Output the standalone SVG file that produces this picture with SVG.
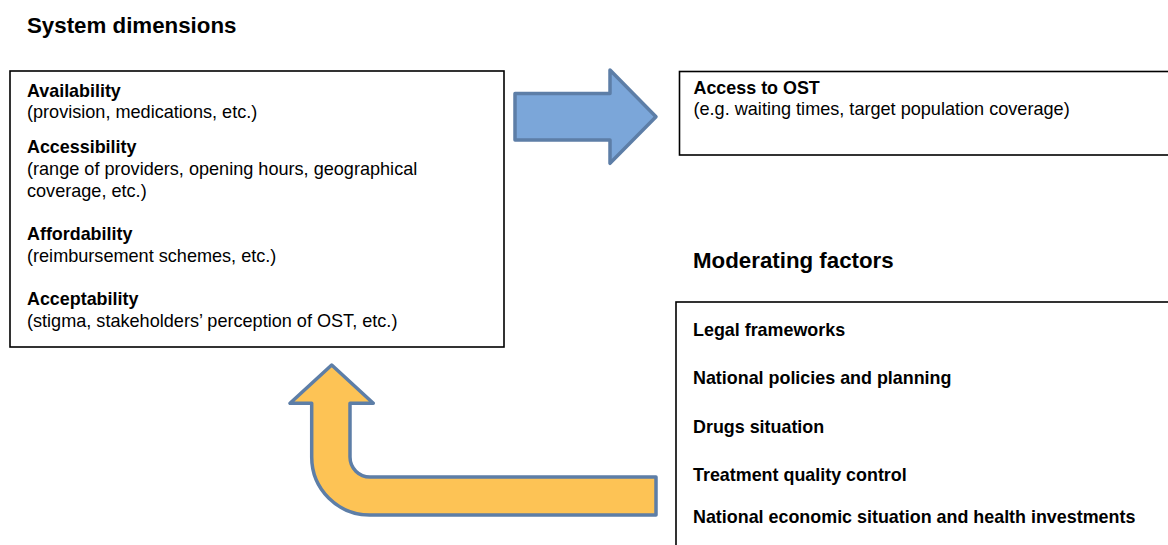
<svg xmlns="http://www.w3.org/2000/svg" width="1168" height="545" viewBox="0 0 1168 545">
  <style>
    .title { font-family: "Liberation Sans", Arial, sans-serif; font-size: 22.3px; font-weight: bold; fill: #000; }
    .head { font-family: "Liberation Sans", Arial, sans-serif; font-size: 17.9px; font-weight: bold; fill: #000; }
    .body { font-family: "Liberation Sans", Arial, sans-serif; font-size: 18.1px; fill: #000; }
    .box { fill: #fff; stroke: #000; stroke-width: 1.6; }
    .arrow { stroke: #5d7ea7; stroke-width: 3.5; stroke-linejoin: round; }
  </style>
  <rect width="1168" height="545" fill="#fff"/>

  <!-- Section headings -->
  <text class="title" x="27" y="33">System dimensions</text>
  <text class="title" x="693" y="268">Moderating factors</text>

  <!-- System dimensions box -->
  <g id="system-dimensions">
    <rect class="box" x="10" y="71" width="494" height="276"/>
    <text class="head" x="27" y="97">Availability</text>
    <text class="body" x="27" y="118">(provision, medications, etc.)</text>
    <text class="head" x="27" y="153">Accessibility</text>
    <text class="body" x="27" y="175">(range of providers, opening hours, geographical</text>
    <text class="body" x="27" y="196.5">coverage, etc.)</text>
    <text class="head" x="27" y="240">Affordability</text>
    <text class="body" x="27" y="261.5">(reimbursement schemes, etc.)</text>
    <text class="head" x="27" y="305">Acceptability</text>
    <text class="body" x="27" y="326.5">(stigma, stakeholders’ perception of OST, etc.)</text>
  </g>

  <!-- Access to OST box -->
  <g id="access-to-ost">
    <rect class="box" x="679.5" y="71.5" width="500" height="83.5"/>
    <text class="head" x="693.5" y="93.5">Access to OST</text>
    <text class="body" x="693.5" y="115">(e.g. waiting times, target population coverage)</text>
  </g>

  <!-- Moderating factors box -->
  <g id="moderating-factors">
    <rect class="box" x="676" y="302" width="510" height="260"/>
    <text class="head" x="693" y="336">Legal frameworks</text>
    <text class="head" x="693" y="384">National policies and planning</text>
    <text class="head" x="693" y="432.5">Drugs situation</text>
    <text class="head" x="693" y="480.5">Treatment quality control</text>
    <text class="head" x="693" y="522.5">National economic situation and health investments</text>
  </g>

  <!-- Block arrows -->
  <g id="connectors">
    <path class="arrow" fill="#7ba6d9" d="M515 93.5 H610 V70 L656 116.7 L610 163.3 V140 H515 Z"/>
    <path class="arrow" fill="#fdc355" d="M656 477 H370 A20 20 0 0 1 350 457 V403.3 H373.3 L331.7 365 L290 403.3 H311.7 V457 A58 58 0 0 0 369.7 515 H656 Z"/>
  </g>
</svg>
